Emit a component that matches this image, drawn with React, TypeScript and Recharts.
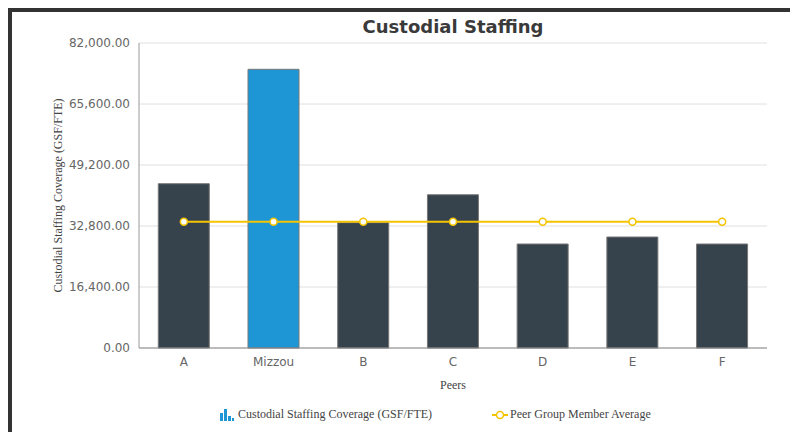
import React from "react";
import { ComposedChart, Bar, Line, XAxis, YAxis, CartesianGrid, Cell } from "recharts";

const categories = ["A", "Mizzou", "B", "C", "D", "E", "F"];
const coverage = [44170, 74930, 33700, 41200, 27960, 29840, 27960];
const peerAverage = [33950, 33950, 33950, 33950, 33950, 33950, 33950];
const yTicks = [0, 16400, 32800, 49200, 65600, 82000];
const highlight = "Mizzou";

const data = categories.map((c, i) => ({ name: c, coverage: coverage[i], avg: peerAverage[i] }));

const fmt = (v: number) =>
  v.toLocaleString("en-US", { minimumFractionDigits: 2, maximumFractionDigits: 2 });

const serif = "'Liberation Serif', 'Times New Roman', serif";
const sans = "'DejaVu Sans', Verdana, sans-serif";

export default function App() {
  return (
    <div
      style={{
        position: "relative",
        width: 790,
        height: 424,
        borderTop: "4px solid #333",
        borderLeft: "4px solid #333",
        boxSizing: "border-box",
        overflow: "hidden",
      }}
    >
      <ComposedChart
        width={786}
        height={420}
        data={data}
        margin={{ top: 31, right: 31, left: 0, bottom: 54 }}
        barCategoryGap="21.5%"
      >
        <text
          x={441}
          y={14}
          textAnchor="middle"
          dominantBaseline="central"
          style={{ fontFamily: sans, fontWeight: "bold", fontSize: 18, fill: "#3a3a3a" }}
        >
          Custodial Staffing
        </text>
        <CartesianGrid horizontal vertical={false} stroke="#e0e0e0" />
        <YAxis
          width={127}
          domain={[0, 82000]}
          ticks={yTicks}
          tickFormatter={fmt}
          tickLine={false}
          tickSize={0}
          tickMargin={9}
          axisLine={{ stroke: "#999" }}
          tick={{ fontFamily: sans, fontSize: 12, fill: "#666" }}
          label={{
            value: "Custodial Staffing Coverage (GSF/FTE)",
            angle: -90,
            position: "insideLeft",
            offset: 46,
            style: { fontFamily: serif, fontSize: 12, fill: "#444", textAnchor: "middle" },
          }}
        />
        <XAxis
          dataKey="name"
          height={30}
          tickLine={false}
          tickSize={0}
          tickMargin={9}
          axisLine={{ stroke: "#888" }}
          tick={{ fontFamily: sans, fontSize: 12, fill: "#666" }}
          label={{
            value: "Peers",
            position: "insideBottom",
            offset: -11,
            style: { fontFamily: serif, fontSize: 12, fill: "#444" },
          }}
        />
        <Bar dataKey="coverage" isAnimationActive={false} stroke="#777" strokeWidth={1}>
          {data.map((d) => (
            <Cell key={d.name} fill={d.name === highlight ? "#1e96d5" : "#37434c"} />
          ))}
        </Bar>
        <Line
          dataKey="avg"
          type="linear"
          stroke="#f5c400"
          strokeWidth={2}
          dot={{ r: 3.5, fill: "#fff", stroke: "#f5c400", strokeWidth: 1.5 }}
          activeDot={false}
          isAnimationActive={false}
        />
      </ComposedChart>
      <div
        style={{
          position: "absolute",
          top: 395,
          left: 0,
          width: 786,
          height: 20,
          fontFamily: serif,
          fontSize: 12,
          color: "#444",
        }}
      >
        <svg style={{ position: "absolute", left: 208, top: 1 }} width={14} height={13}>
          <rect x={0} y={5} width={3} height={8} fill="#1e96d5" />
          <rect x={4} y={1} width={3} height={12} fill="#1e96d5" />
          <rect x={8} y={8} width={3} height={5} fill="#1e96d5" />
          <rect x={12} y={10} width={2} height={3} fill="#1e96d5" />
        </svg>
        <span style={{ position: "absolute", left: 226, top: 0, whiteSpace: "nowrap" }}>
          Custodial Staffing Coverage (GSF/FTE)
        </span>
        <svg style={{ position: "absolute", left: 480, top: 1 }} width={16} height={14}>
          <line x1={0} y1={7} x2={16} y2={7} stroke="#f5c400" strokeWidth={2} />
          <circle cx={8} cy={7} r={3.5} fill="#fff" stroke="#f5c400" strokeWidth={1.5} />
        </svg>
        <span style={{ position: "absolute", left: 498, top: 0, whiteSpace: "nowrap" }}>
          Peer Group Member Average
        </span>
      </div>
    </div>
  );
}
